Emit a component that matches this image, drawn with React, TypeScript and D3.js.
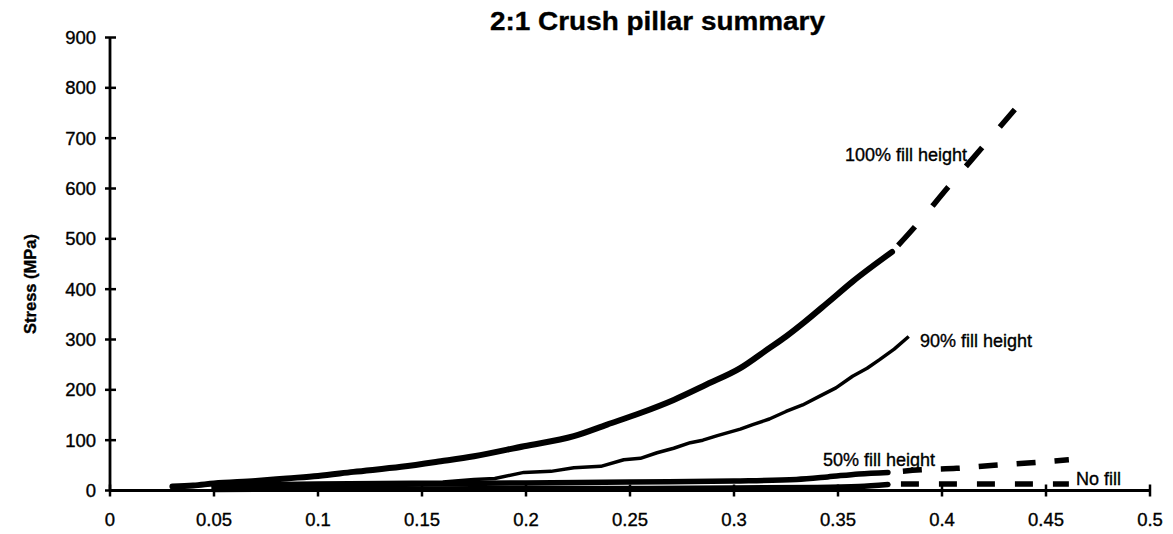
import React from "react";
import * as d3 from "d3";

// ---- data ----
const xTicks = [0, 0.05, 0.1, 0.15, 0.2, 0.25, 0.3, 0.35, 0.4, 0.45, 0.5];
const xTickLabels = ["0", "0.05", "0.1", "0.15", "0.2", "0.25", "0.3", "0.35", "0.4", "0.45", "0.5"];
const yTicks = [0, 100, 200, 300, 400, 500, 600, 700, 800, 900];
const yTickLabels = ["0", "100", "200", "300", "400", "500", "600", "700", "800", "900"];

type Pt = [number, number];

const fill100Solid: Pt[] = [
  [0.03, 8], [0.04, 10], [0.05, 14], [0.07, 19], [0.085, 24], [0.1, 29], [0.117, 37],
  [0.14, 47], [0.159, 58], [0.175, 68], [0.199, 88], [0.223, 108], [0.239, 131],
  [0.255, 154], [0.271, 180], [0.287, 211], [0.303, 243], [0.316, 280], [0.325, 306],
  [0.334, 335], [0.345, 373], [0.357, 415], [0.376, 474],
];
const fill100Dash: Pt[] = [[0.376, 474], [0.387, 524], [0.403, 603], [0.419, 680], [0.435, 757]];

const fill90: Pt[] = [
  [0.05, 12], [0.08, 14], [0.1, 15], [0.13, 16], [0.16, 17], [0.175, 22], [0.185, 24],
  [0.199, 36], [0.212, 38], [0.223, 45], [0.236, 48], [0.247, 61], [0.255, 64],
  [0.263, 75], [0.271, 84], [0.279, 95], [0.285, 100], [0.292, 109], [0.303, 122],
  [0.309, 131], [0.317, 142], [0.325, 157], [0.333, 170], [0.341, 187], [0.349, 204],
  [0.357, 227], [0.364, 243], [0.37, 260], [0.377, 281], [0.384, 306],
];

const fill50Solid: Pt[] = [
  [0.05, 8], [0.1, 10], [0.15, 13], [0.2, 15], [0.25, 17], [0.3, 19], [0.33, 22],
  [0.345, 27], [0.36, 33], [0.374, 36],
];
const fill50Dash: Pt[] = [[0.374, 36], [0.39, 41], [0.407, 44], [0.425, 50], [0.443, 55], [0.461, 61]];

const noFillSolid: Pt[] = [
  [0.05, 2], [0.1, 3], [0.15, 3], [0.2, 4], [0.25, 4], [0.3, 5], [0.34, 6], [0.36, 8], [0.374, 12],
];
const noFillDash: Pt[] = [[0.374, 13], [0.461, 13]];

const seriesLabels = ["100% fill height", "90% fill height", "50% fill height", "No fill"];

const FONT = "'Liberation Sans', Arial, Helvetica, sans-serif";

export default function App() {
  const W = 1173;
  const H = 534;
  const x = d3.scaleLinear().domain([0, 0.5]).range([110, 1150]);
  const y = d3.scaleLinear().domain([0, 900]).range([490.5, 37.5]);

  const line = d3
    .line<Pt>()
    .x((d) => x(d[0]))
    .y((d) => y(d[1]))
    .curve(d3.curveMonotoneX);

  const linLine = d3
    .line<Pt>()
    .x((d) => x(d[0]))
    .y((d) => y(d[1]));

  const txt = { stroke: "#000", strokeWidth: 0.35 };

  return (
    <svg
      width={W}
      height={H}
      style={{ position: "absolute", left: 0, top: 0, background: "#fff" }}
      fontFamily={FONT}
    >
      <rect x={0} y={0} width={W} height={H} fill="#fff" />

      {/* title */}
      <text x={657.5} y={30} textAnchor="middle" fontWeight="bold" fontSize={26} textLength={335} lengthAdjust="spacingAndGlyphs" {...txt}>
        2:1 Crush pillar summary
      </text>

      {/* y axis label */}
      <text
        transform={`translate(36,284) rotate(-90)`}
        textAnchor="middle"
        fontWeight="bold"
        fontSize={16.5}
        {...txt}
      >
        Stress (MPa)
      </text>

      {/* series */}
      <path d={line(noFillSolid) || ""} fill="none" stroke="#000" strokeWidth={5.5} strokeLinecap="round" />
      <path d={linLine(noFillDash) || ""} fill="none" stroke="#000" strokeWidth={5.5} strokeDasharray="18 20" strokeDashoffset={25} />

      <path d={line(fill50Solid) || ""} fill="none" stroke="#000" strokeWidth={5.5} strokeLinecap="round" />
      <path d={line(fill50Dash) || ""} fill="none" stroke="#000" strokeWidth={5.5} strokeDasharray="19 19" strokeDashoffset={23} />

      <path d={linLine(fill90) || ""} fill="none" stroke="#000" strokeWidth={3.5} strokeLinejoin="round" />

      <path d={line(fill100Solid) || ""} fill="none" stroke="#000" strokeWidth={6} strokeLinecap="round" />
      <path d={line(fill100Dash) || ""} fill="none" stroke="#000" strokeWidth={5.5} strokeDasharray="25 27" strokeDashoffset={43} />

      {/* axes */}
      <line x1={x(0)} x2={x(0)} y1={y(900)} y2={y(0)} stroke="#000" strokeWidth={2.8} />
      <line x1={x(0)} x2={x(0.5)} y1={y(0)} y2={y(0)} stroke="#000" strokeWidth={2.8} />
      {yTicks.map((t, i) => (
        <g key={"y" + t}>
          <line x1={x(0) - 5} x2={x(0) + 6} y1={y(t)} y2={y(t)} stroke="#000" strokeWidth={2.5} />
          <text x={96} y={y(t)} dy="0.355em" textAnchor="end" fontSize={18.5} {...txt}>
            {yTickLabels[i]}
          </text>
        </g>
      ))}
      {xTicks.map((t, i) => (
        <g key={"x" + t}>
          <line x1={x(t)} x2={x(t)} y1={y(0) - 6} y2={y(0) + 6} stroke="#000" strokeWidth={2.5} />
          <text x={x(t)} y={526} textAnchor="middle" fontSize={18.5} {...txt}>
            {xTickLabels[i]}
          </text>
        </g>
      ))}

      {/* series labels */}
      <text x={845} y={161} fontSize={18} {...txt}>{seriesLabels[0]}</text>
      <text x={920} y={347} fontSize={18} {...txt}>{seriesLabels[1]}</text>
      <text x={823} y={466} fontSize={18} {...txt}>{seriesLabels[2]}</text>
      <text x={1076} y={485} fontSize={18} {...txt}>{seriesLabels[3]}</text>
    </svg>
  );
}
